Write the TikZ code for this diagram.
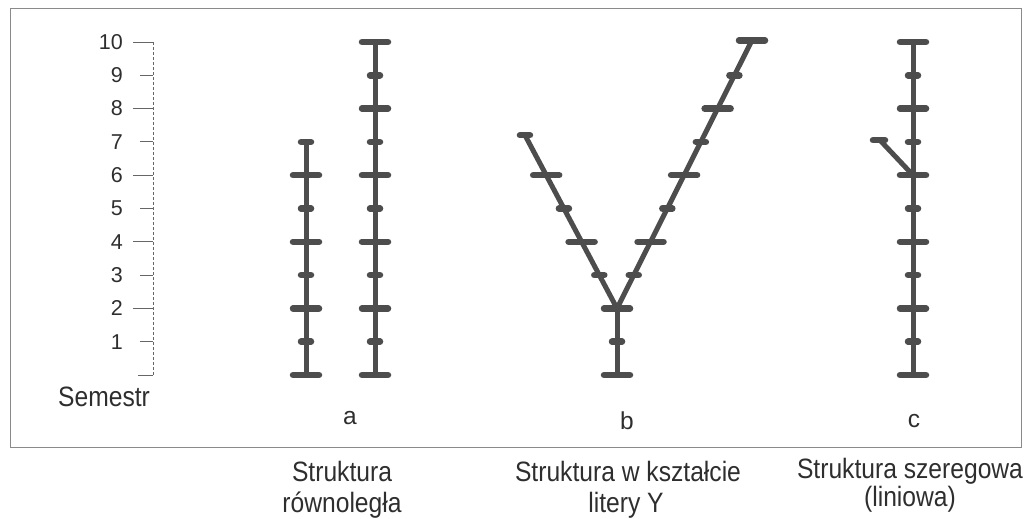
\documentclass[tikz,border=0pt]{standalone}
\usepackage{fontspec}
\setmainfont{Liberation Sans}
\newfontfamily\waski[FakeStretch=0.88]{Liberation Sans}
\definecolor{barcol}{HTML}{4D4D4D}
\definecolor{txtcol}{HTML}{2E2E2E}
\definecolor{framecol}{HTML}{8A8A8A}
\definecolor{axcol}{HTML}{666666}
\begin{document}
\begin{tikzpicture}[x=1pt, y=33.3pt,
    slup/.style={draw=barcol, line width=5pt},
    belka/.style={draw=barcol, line width=6.5pt, line cap=round},
    kreska/.style={draw=axcol, line width=0.9pt},
    liczba/.style={text=txtcol, font=\fontsize{21.5}{24}\selectfont, inner sep=0pt},
    litera/.style={text=txtcol, font=\fontsize{24.5}{28}\selectfont, inner sep=0pt},
    podpis/.style={text=txtcol, font=\waski\fontsize{28}{32}\selectfont, inner sep=0pt}]
  \useasboundingbox (0pt,-144pt) rectangle (1026pt,375pt);
  % --- ramka ---
  \draw[framecol, line width=1pt] (10pt,366pt) rectangle (1021pt,-73pt);

  % --- oś: semestry ---
  \draw[axcol, line width=0.7pt, densely dashed] (153,0) -- (153,10);
  \foreach \k in {2,4,...,10} \draw[kreska] (133,\k) -- (153,\k);
  \foreach \k in {1,3,...,9} \draw[kreska] (140,\k) -- (153,\k);
  \draw[kreska] (138,0) -- (153,0);
  \foreach \k in {1,...,10} \node[liczba, anchor=east] (s\k) at (123,\k) {\k};
  \node[podpis, anchor=base west] (semestr) at (58pt,-32pt) {Semestr};

  % --- (a) struktura równoległa ---
  \begin{scope}[xshift=306pt]
    \draw[slup] (0,0) -- (0,7);
    \foreach \k in {0,2,4,6} \draw[belka] (-13,\k) -- (13,\k);
    \foreach \k in {1,3,5,7} \draw[belka] (-5,\k) -- (5,\k);
  \end{scope}
  \begin{scope}[xshift=375pt]
    \draw[slup] (0,0) -- (0,10);
    \foreach \k in {0,2,...,10} \draw[belka] (-13,\k) -- (13,\k);
    \foreach \k in {1,3,...,9} \draw[belka] (-5,\k) -- (5,\k);
  \end{scope}
  \node[litera, anchor=base] (lita) at (350pt,-50pt) {a};

  % --- (b) kształt litery Y ---
  \begin{scope}[xshift=617pt]
    \draw[slup] (0,0) -- (0,2);
    \draw[slup] (0,2) -- (-92,7.2);
    \draw[slup] (0,2) -- (135,10.05);
    \draw[belka] (-13,0) -- (13,0);
    \draw[belka] (-5,1) -- (5,1);
    \draw[belka] (-13,2) -- (13,2);
    % lewe ramię
    \foreach \k/\w in {3/5, 4/13, 5/5, 6/13, 7.2/5}
      \draw[belka] ({-17.7*(\k-2)-\w},\k) -- ({-17.7*(\k-2)+\w},\k);
    % prawe ramię
    \foreach \k/\w in {3/5, 4/13, 5/5, 6/13, 7/5, 8/13, 9/5, 10.05/13}
      \draw[belka] ({16.77*(\k-2)-\w},\k) -- ({16.77*(\k-2)+\w},\k);
  \end{scope}
  \node[litera, anchor=base] (litb) at (627pt,-55pt) {b};

  % --- (c) struktura szeregowa ---
  \begin{scope}[xshift=913pt]
    \draw[slup] (0,0) -- (0,10);
    \draw[slup] (0,6) -- (-33,7.05);
    \draw[belka] (-40,7.05) -- (-28,7.05);
    \foreach \k in {0,2,...,10} \draw[belka] (-13,\k) -- (13,\k);
    \foreach \k in {1,3,...,9} \draw[belka] (-5,\k) -- (5,\k);
  \end{scope}
  \node[litera, anchor=base] (litc) at (914pt,-53pt) {c};

  % --- podpisy pod ramką ---
  \node[podpis, anchor=base] (pa1) at (342pt,-107pt) {Struktura};
  \node[podpis, anchor=base] (pa2) at (342pt,-138pt) {równoległa};
  \node[podpis, anchor=base] (pb1) at (628pt,-107pt) {Struktura w kształcie};
  \node[podpis, anchor=base] (pb2) at (626pt,-138pt) {litery Y};
  \node[podpis, anchor=base] (pc1) at (910pt,-104pt) {Struktura szeregowa};
  \node[podpis, anchor=base] (pc2) at (910pt,-132pt) {(liniowa)};
\end{tikzpicture}
\end{document}
